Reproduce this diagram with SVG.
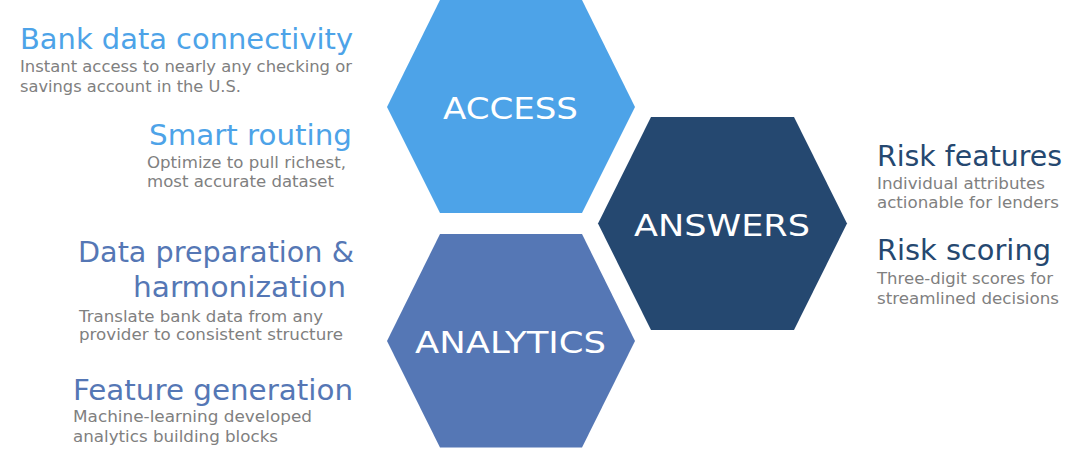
<svg xmlns="http://www.w3.org/2000/svg" width="1090" height="458" viewBox="0 0 1090 458">
<style>
.hex-label{font-family:"DejaVu Sans","Liberation Sans",sans-serif;font-size:31px;fill:#ffffff;}
.head{font-family:"DejaVu Sans","Liberation Sans",sans-serif;font-size:28px;}
.desc{font-family:"DejaVu Sans","Liberation Sans",sans-serif;font-size:16.5px;fill:#808080;}
.c-access{fill:#4da3e8;}
.c-analytics{fill:#5577b5;}
.c-answers{fill:#254870;}
</style>
<rect width="1090" height="458" fill="#ffffff"/>
<g id="access">
  <polygon class="c-access" points="440,0 582,0 635,107 582,213 440,213 387,107"/>
  <text class="hex-label" x="443" y="119" textLength="135" lengthAdjust="spacingAndGlyphs">ACCESS</text>
</g>
<g id="analytics">
  <polygon class="c-analytics" points="440,234 582,234 635,341 582,447.5 440,447.5 387,341"/>
  <text class="hex-label" x="415" y="352.5" textLength="191" lengthAdjust="spacingAndGlyphs">ANALYTICS</text>
</g>
<g id="answers">
  <polygon class="c-answers" points="651,117 794,117 847,223.5 794,330 651,330 598,223.5"/>
  <text class="hex-label" x="634" y="236" textLength="176" lengthAdjust="spacingAndGlyphs">ANSWERS</text>
</g>
<g id="bank-data-connectivity">
  <text class="head c-access" x="20" y="49" textLength="333" lengthAdjust="spacingAndGlyphs">Bank data connectivity</text>
  <text class="desc" x="20" y="72" textLength="332" lengthAdjust="spacingAndGlyphs">Instant access to nearly any checking or</text>
  <text class="desc" x="20" y="92" textLength="221" lengthAdjust="spacingAndGlyphs">savings account in the U.S.</text>
</g>
<g id="smart-routing">
  <text class="head c-access" x="149" y="145" textLength="203" lengthAdjust="spacingAndGlyphs">Smart routing</text>
  <text class="desc" x="147" y="168" textLength="199" lengthAdjust="spacingAndGlyphs">Optimize to pull richest,</text>
  <text class="desc" x="147" y="187" textLength="187" lengthAdjust="spacingAndGlyphs">most accurate dataset</text>
</g>
<g id="data-preparation">
  <text class="head c-analytics" x="78" y="262" textLength="276" lengthAdjust="spacingAndGlyphs">Data preparation &amp;</text>
  <text class="head c-analytics" x="133" y="297" textLength="213" lengthAdjust="spacingAndGlyphs">harmonization</text>
  <text class="desc" x="79" y="321.5" textLength="244" lengthAdjust="spacingAndGlyphs">Translate bank data from any</text>
  <text class="desc" x="79" y="340" textLength="264" lengthAdjust="spacingAndGlyphs">provider to consistent structure</text>
</g>
<g id="feature-generation">
  <text class="head c-analytics" x="73" y="400" textLength="280" lengthAdjust="spacingAndGlyphs">Feature generation</text>
  <text class="desc" x="73" y="422" textLength="239" lengthAdjust="spacingAndGlyphs">Machine-learning developed</text>
  <text class="desc" x="73" y="441.5" textLength="205" lengthAdjust="spacingAndGlyphs">analytics building blocks</text>
</g>
<g id="risk-features">
  <text class="head c-answers" x="877" y="166" textLength="185" lengthAdjust="spacingAndGlyphs">Risk features</text>
  <text class="desc" x="877" y="189" textLength="168" lengthAdjust="spacingAndGlyphs">Individual attributes</text>
  <text class="desc" x="877" y="208" textLength="182" lengthAdjust="spacingAndGlyphs">actionable for lenders</text>
</g>
<g id="risk-scoring">
  <text class="head c-answers" x="877" y="260" textLength="174" lengthAdjust="spacingAndGlyphs">Risk scoring</text>
  <text class="desc" x="877" y="284" textLength="176" lengthAdjust="spacingAndGlyphs">Three-digit scores for</text>
  <text class="desc" x="877" y="304" textLength="182" lengthAdjust="spacingAndGlyphs">streamlined decisions</text>
</g>
</svg>
